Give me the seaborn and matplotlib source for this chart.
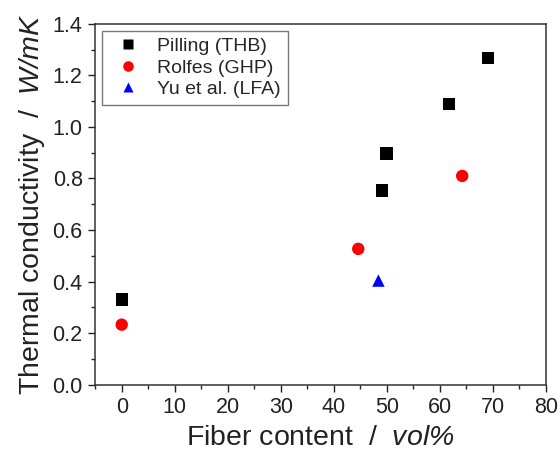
import numpy as np
import pandas as pd
import matplotlib
matplotlib.use("Agg")
import matplotlib.pyplot as plt
from matplotlib.ticker import MultipleLocator
import seaborn as sns

# --- data ---
pilling_x = [0, 49.1, 49.9, 61.7, 69.1]
pilling_y = [0.33, 0.753, 0.897, 1.088, 1.268]
rolfes_x = [0, 44.6, 64.2]
rolfes_y = [0.233, 0.527, 0.810]
yu_x = [48.4]
yu_y = [0.404]

labels = ["Pilling (THB)", "Rolfes (GHP)", "Yu et al. (LFA)"]

df = pd.DataFrame({
    "fiber": pilling_x + rolfes_x + yu_x,
    "k": pilling_y + rolfes_y + yu_y,
    "source": [labels[0]] * len(pilling_x) + [labels[1]] * len(rolfes_x) + [labels[2]] * len(yu_x),
})

sns.set_style("ticks")
plt.rcParams["font.family"] = ["Liberation Sans", "DejaVu Sans"]
plt.rcParams["mathtext.fontset"] = "custom"
plt.rcParams["mathtext.it"] = "Liberation Sans:italic"
plt.rcParams["mathtext.rm"] = "Liberation Sans:italic"

fig, ax = plt.subplots(figsize=(5.6, 4.58), dpi=100)
fig.subplots_adjust(left=0.17, right=0.975, top=0.948, bottom=0.16)

sns.scatterplot(data=df, x="fiber", y="k", hue="source", style="source",
                palette={labels[0]: "black", labels[1]: "red", labels[2]: "blue"},
                markers={labels[0]: "s", labels[1]: "o", labels[2]: "^"},
                s=80, edgecolor="none", ax=ax)

ax.set_xlim(-5, 80)
ax.set_ylim(0, 1.4)
ax.xaxis.set_major_locator(MultipleLocator(10))
ax.xaxis.set_minor_locator(MultipleLocator(5))
ax.yaxis.set_major_locator(MultipleLocator(0.2))
ax.yaxis.set_minor_locator(MultipleLocator(0.1))
ax.yaxis.set_major_formatter(matplotlib.ticker.FormatStrFormatter("%.1f"))
ax.tick_params(which="major", direction="out", length=5, width=1, labelsize=15.5,
               colors="#222222", pad=4)
ax.tick_params(which="minor", direction="out", length=3, width=1)
for sp in ax.spines.values():
    sp.set_visible(True)
    sp.set_color("#333333")
    sp.set_linewidth(1.1)

ax.set_xlabel("Fiber content  /  $vol\\%$", fontsize=20.5, color="#222222", labelpad=5)
ax.set_ylabel("Thermal conductivity  /  $W/mK$", fontsize=20.5, color="#222222", labelpad=4)

leg = ax.legend(loc="upper left", fontsize=14, frameon=True, fancybox=False,
                edgecolor="#555555", borderaxespad=0.35, handletextpad=0.5,
                labelspacing=0.2, markerscale=0.85, borderpad=0.35)
leg.get_frame().set_linewidth(1.0)

fig.savefig("out.png", dpi=100)
